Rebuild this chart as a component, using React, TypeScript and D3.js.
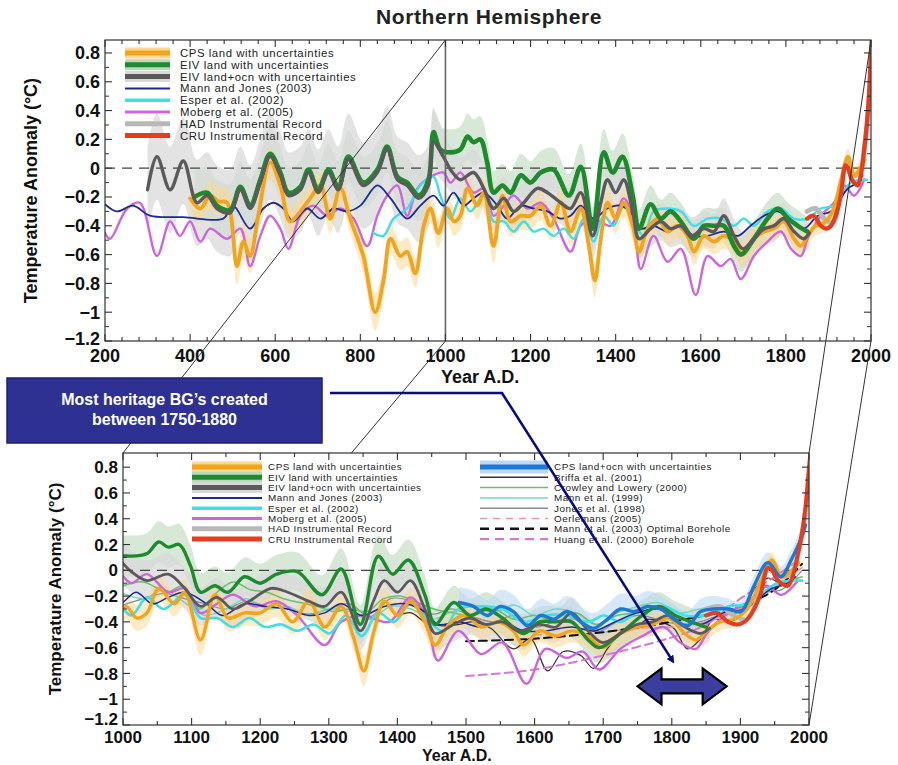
import React from 'react';
import * as d3 from 'd3';

type P = [number, number];
type B = [number, number, number];

// ---------- DATA (year, anomaly[, half-width of uncertainty]) ----------
const cpsLand: B[] = [
  [400,-0.21,0.1],[424,-0.28,0.1],[447,-0.19,0.1],[466,-0.23,0.1],[487,-0.24,0.1],[510,-0.68,0.13],[525,-0.51,0.12],[541,-0.61,0.12],
  [560,-0.33,0.1],[588,0.04,0.1],[612,-0.12,0.1],[635,-0.37,0.1],[659,-0.30,0.1],[682,-0.21,0.1],[706,-0.12,0.1],[729,-0.35,0.1],
  [753,-0.14,0.1],[776,-0.35,0.1],[807,-0.61,0.12],[835,-1.0,0.13],[855,-0.77,0.12],[871,-0.49,0.1],[894,-0.61,0.1],[910,-0.58,0.1],
  [929,-0.73,0.1],[949,-0.40,0.1],[965,-0.28,0.1],[983,-0.45,0.1],[1004,-0.28,0.1],[1020,-0.37,0.1],[1035,-0.33,0.1],[1052,-0.14,0.1],
  [1075,-0.26,0.1],[1090,-0.17,0.1],[1113,-0.54,0.12],[1134,-0.19,0.1],[1153,-0.37,0.1],[1177,-0.33,0.1],[1200,-0.33,0.1],[1224,-0.26,0.1],
  [1247,-0.40,0.1],[1271,-0.24,0.1],[1294,-0.44,0.1],[1318,-0.28,0.1],[1337,-0.54,0.1],[1351,-0.78,0.12],[1365,-0.49,0.1],[1381,-0.24,0.1],
  [1400,-0.35,0.1],[1419,-0.24,0.1],[1440,-0.40,0.1],[1455,-0.58,0.1],[1475,-0.42,0.09],[1499,-0.35,0.09],[1522,-0.44,0.09],[1546,-0.40,0.09],
  [1569,-0.47,0.09],[1584,-0.58,0.09],[1607,-0.47,0.09],[1631,-0.51,0.09],[1654,-0.47,0.09],[1678,-0.51,0.09],[1699,-0.60,0.09],[1725,-0.49,0.09],
  [1749,-0.44,0.08],[1772,-0.42,0.08],[1795,-0.37,0.08],[1819,-0.49,0.08],[1835,-0.54,0.08],[1851,-0.47,0.07],[1870,-0.40,0.07],[1890,-0.38,0.06],
  [1910,-0.30,0.06],[1930,-0.08,0.06],[1946,0.08,0.06],[1960,-0.05,0.06],[1975,0.0,0.06],[1985,0.06,0.06]
];
const eivLand: B[] = [
  [410,-0.20,0.18],[440,-0.17,0.18],[463,-0.26,0.18],[494,-0.29,0.18],[518,-0.13,0.18],[541,-0.26,0.18],[565,-0.08,0.18],[588,0.10,0.18],
  [612,-0.03,0.18],[631,-0.17,0.18],[659,-0.13,0.18],[678,-0.01,0.18],[701,-0.15,0.18],[725,-0.01,0.18],[748,-0.13,0.18],[772,0.08,0.18],
  [807,-0.10,0.18],[840,-0.01,0.18],[863,0.15,0.18],[887,-0.06,0.18],[910,-0.10,0.18],[937,-0.19,0.18],[960,-0.08,0.18],[972,0.25,0.17],
  [988,0.13,0.16],[1012,0.11,0.16],[1035,0.13,0.16],[1052,0.22,0.16],[1066,0.18,0.16],[1082,0.20,0.16],[1098,0.04,0.16],[1113,-0.17,0.15],
  [1134,-0.12,0.15],[1153,-0.17,0.15],[1177,-0.05,0.15],[1200,-0.10,0.15],[1224,-0.03,0.15],[1254,-0.01,0.15],[1290,-0.19,0.15],[1318,0.01,0.16],
  [1346,-0.42,0.15],[1372,0.11,0.16],[1393,-0.03,0.15],[1416,0.08,0.16],[1440,-0.19,0.15],[1455,-0.42,0.13],[1482,-0.25,0.13],[1506,-0.35,0.13],
  [1529,-0.30,0.13],[1553,-0.37,0.13],[1584,-0.49,0.13],[1607,-0.40,0.12],[1631,-0.40,0.12],[1654,-0.40,0.12],[1678,-0.54,0.12],[1694,-0.60,0.12],
  [1725,-0.49,0.12],[1757,-0.35,0.12],[1781,-0.28,0.11],[1805,-0.35,0.11],[1828,-0.40,0.11],[1850,-0.44,0.1]
];
const eivLandOcn: B[] = [
  [300,-0.15,0.3],[322,0.08,0.3],[353,-0.15,0.3],[384,0.05,0.3],[416,-0.24,0.3],[440,-0.19,0.3],[463,-0.28,0.3],[494,-0.31,0.3],
  [518,-0.15,0.3],[541,-0.28,0.3],[565,-0.10,0.3],[588,0.08,0.3],[612,-0.05,0.3],[631,-0.19,0.3],[659,-0.15,0.3],[678,-0.03,0.3],
  [701,-0.17,0.3],[725,-0.03,0.3],[748,-0.15,0.3],[772,0.06,0.32],[807,-0.12,0.3],[840,-0.03,0.3],[863,0.13,0.3],[887,-0.08,0.3],
  [910,-0.12,0.3],[937,-0.21,0.3],[960,-0.12,0.28],[972,0.18,0.22],[995,0.08,0.18],[1012,-0.01,0.16],[1035,-0.08,0.16],[1066,-0.03,0.16],
  [1090,-0.14,0.16],[1113,-0.28,0.15],[1137,-0.21,0.15],[1160,-0.30,0.15],[1184,-0.24,0.15],[1216,-0.14,0.15],[1240,-0.17,0.15],[1271,-0.24,0.15],
  [1294,-0.28,0.15],[1318,-0.17,0.15],[1346,-0.47,0.15],[1365,-0.24,0.15],[1381,-0.08,0.15],[1400,-0.17,0.15],[1419,-0.08,0.15],[1440,-0.30,0.14],
  [1455,-0.49,0.13],[1482,-0.42,0.13],[1506,-0.37,0.13],[1529,-0.42,0.13],[1553,-0.40,0.13],[1577,-0.47,0.13],[1607,-0.42,0.12],[1631,-0.44,0.12],
  [1654,-0.33,0.12],[1678,-0.47,0.12],[1699,-0.56,0.12],[1725,-0.49,0.12],[1749,-0.42,0.12],[1772,-0.40,0.11],[1795,-0.35,0.11],[1819,-0.44,0.11],
  [1842,-0.49,0.1],[1855,-0.45,0.1]
];
const mannJones: P[] = [
  [200,-0.25],[228,-0.30],[266,-0.26],[306,-0.33],[384,-0.34],[478,-0.35],[501,-0.26],[541,-0.42],[572,-0.28],[596,-0.24],[619,-0.28],
  [642,-0.37],[675,-0.28],[706,-0.35],[737,-0.28],[769,-0.30],[800,-0.26],[840,-0.12],[871,-0.21],[910,-0.35],[941,-0.26],[972,-0.19],
  [995,-0.26],[1019,-0.17],[1043,-0.26],[1066,-0.21],[1090,-0.17],[1122,-0.26],[1145,-0.35],[1177,-0.26],[1207,-0.28],[1240,-0.30],
  [1271,-0.35],[1294,-0.33],[1318,-0.26],[1348,-0.35],[1381,-0.28],[1411,-0.26],[1442,-0.33],[1459,-0.42],[1489,-0.40],[1522,-0.44],
  [1553,-0.40],[1584,-0.47],[1616,-0.47],[1654,-0.44],[1687,-0.47],[1717,-0.40],[1749,-0.33],[1781,-0.30],[1812,-0.37],[1842,-0.42],
  [1875,-0.33],[1906,-0.30],[1946,-0.14],[1969,-0.10],[1980,-0.05]
];
const esper: P[] = [
  [831,-0.45],[854,-0.47],[878,-0.35],[910,-0.28],[941,-0.12],[972,-0.06],[988,-0.19],[1012,-0.35],[1035,-0.21],[1059,-0.30],[1090,-0.19],
  [1113,-0.37],[1137,-0.37],[1160,-0.44],[1184,-0.37],[1207,-0.44],[1231,-0.42],[1254,-0.47],[1278,-0.42],[1301,-0.49],[1325,-0.35],
  [1348,-0.51],[1372,-0.33],[1395,-0.40],[1419,-0.26],[1442,-0.37],[1466,-0.47],[1489,-0.30],[1522,-0.28],[1553,-0.30],[1584,-0.40],
  [1616,-0.35],[1647,-0.35],[1678,-0.40],[1701,-0.35],[1725,-0.40],[1757,-0.30],[1788,-0.28],[1819,-0.35],[1851,-0.35],[1882,-0.28],
  [1913,-0.26],[1953,-0.10],[1990,-0.08]
];
const moberg: P[] = [
  [200,-0.45],[212,-0.49],[252,-0.28],[282,-0.24],[322,-0.61],[353,-0.37],[376,-0.47],[400,-0.37],[424,-0.51],[447,-0.42],[487,-0.49],
  [518,-0.42],[541,-0.68],[565,-0.47],[588,-0.33],[612,-0.42],[631,-0.56],[659,-0.33],[690,-0.26],[722,-0.33],[753,-0.28],[784,-0.35],
  [816,-0.54],[840,-0.33],[863,-0.19],[887,-0.12],[910,-0.33],[934,-0.14],[965,-0.06],[995,-0.03],[1012,-0.10],[1035,-0.03],[1066,-0.17],
  [1090,-0.14],[1113,-0.33],[1137,-0.26],[1160,-0.19],[1193,-0.28],[1224,-0.24],[1254,-0.35],[1294,-0.58],[1318,-0.40],[1348,-0.35],
  [1388,-0.40],[1419,-0.21],[1442,-0.37],[1459,-0.70],[1489,-0.47],[1522,-0.65],[1553,-0.56],[1588,-0.88],[1616,-0.61],[1647,-0.68],
  [1670,-0.63],[1694,-0.77],[1725,-0.61],[1757,-0.51],[1788,-0.44],[1812,-0.56],[1835,-0.61],[1851,-0.49],[1882,-0.33],[1913,-0.24],
  [1937,-0.12],[1960,-0.19],[1984,-0.08]
];
const hadInstr: P[] = [
  [1850,-0.30],[1870,-0.28],[1890,-0.35],[1910,-0.38],[1930,-0.12],[1945,0.05],[1960,-0.05],[1975,-0.02],[1985,0.15],[1995,0.45],[2004,0.95]
];
const cruInstr: P[] = [
  [1850,-0.35],[1865,-0.33],[1882,-0.40],[1895,-0.42],[1906,-0.40],[1918,-0.32],[1929,-0.19],[1940,0.02],[1946,0.0],[1955,-0.08],
  [1969,-0.12],[1976,-0.05],[1984,0.13],[1990,0.3],[1995,0.5],[2000,0.8],[2004,1.0]
];
const cpsLandOcn: B[] = [
  [1490,-0.25,0.12],[1511,-0.28,0.12],[1531,-0.35,0.12],[1550,-0.28,0.13],[1569,-0.32,0.13],[1590,-0.43,0.13],[1609,-0.35,0.13],[1628,-0.38,0.12],
  [1648,-0.32,0.12],[1667,-0.40,0.12],[1686,-0.45,0.12],[1706,-0.38,0.12],[1725,-0.30,0.12],[1745,-0.32,0.12],[1765,-0.28,0.12],[1784,-0.30,0.11],
  [1803,-0.38,0.11],[1823,-0.43,0.11],[1842,-0.32,0.1],[1861,-0.30,0.1],[1882,-0.30,0.08],[1901,-0.32,0.08],[1920,-0.12,0.08],[1940,0.06,0.08],
  [1959,-0.05,0.08],[1974,0.08,0.08],[1988,0.24,0.08],[1995,0.35,0.08]
];
const briffa: P[] = [
  [1402,-0.35],[1420,-0.33],[1440,-0.40],[1463,-0.43],[1490,-0.42],[1510,-0.40],[1536,-0.45],[1569,-0.61],[1594,-0.53],[1619,-0.78],
  [1642,-0.63],[1667,-0.66],[1686,-0.76],[1706,-0.61],[1725,-0.48],[1745,-0.45],[1765,-0.38],[1784,-0.40],[1803,-0.45],[1823,-0.61],
  [1842,-0.53],[1861,-0.38],[1882,-0.40],[1901,-0.35],[1920,-0.15],[1940,-0.06],[1960,-0.12]
];
const crowleyLowery: P[] = [
  [1000,-0.12],[1030,-0.09],[1064,-0.17],[1088,-0.12],[1112,-0.30],[1137,-0.17],[1161,-0.09],[1185,-0.15],[1210,-0.17],[1234,-0.22],
  [1258,-0.25],[1283,-0.28],[1307,-0.32],[1331,-0.30],[1356,-0.32],[1380,-0.22],[1404,-0.20],[1429,-0.25],[1453,-0.30],[1480,-0.33],
  [1510,-0.35],[1540,-0.30],[1570,-0.38],[1600,-0.35],[1630,-0.40],[1660,-0.33],[1690,-0.42],[1720,-0.35],[1750,-0.33],[1780,-0.30],
  [1810,-0.38],[1840,-0.35],[1870,-0.33],[1900,-0.30],[1930,-0.15],[1960,-0.10],[1990,-0.05]
];
const mann1999: P[] = [
  [1000,-0.18],[1030,-0.22],[1060,-0.15],[1090,-0.25],[1120,-0.35],[1150,-0.30],[1180,-0.22],[1210,-0.30],[1240,-0.28],[1270,-0.35],
  [1300,-0.30],[1330,-0.32],[1360,-0.38],[1390,-0.28],[1420,-0.30],[1450,-0.38],[1480,-0.32],[1510,-0.28],[1540,-0.33],[1570,-0.27],
  [1600,-0.35],[1630,-0.30],[1660,-0.33],[1690,-0.42],[1720,-0.33],[1750,-0.28],[1780,-0.25],[1810,-0.33],[1840,-0.30],[1870,-0.28],
  [1900,-0.30],[1930,-0.18],[1960,-0.12],[1980,-0.05]
];
const jones1998: P[] = [
  [1000,-0.27],[1030,-0.22],[1060,-0.18],[1090,-0.22],[1120,-0.26],[1150,-0.30],[1180,-0.24],[1210,-0.28],[1240,-0.30],[1270,-0.34],
  [1300,-0.30],[1330,-0.26],[1360,-0.36],[1390,-0.22],[1420,-0.24],[1450,-0.34],[1480,-0.30],[1510,-0.36],[1540,-0.40],[1570,-0.35],
  [1600,-0.44],[1630,-0.40],[1660,-0.38],[1690,-0.48],[1720,-0.40],[1750,-0.35],[1780,-0.38],[1810,-0.42],[1840,-0.40],[1870,-0.35],
  [1900,-0.32],[1930,-0.18],[1960,-0.15],[1990,0.0]
];
const oerlemans: P[] = [[1600,-0.50],[1650,-0.50],[1700,-0.48],[1750,-0.45],[1800,-0.44],[1850,-0.40],[1900,-0.30],[1950,-0.12],[1990,0.02]];
const mann2003Bore: P[] = [[1500,-0.55],[1600,-0.53],[1700,-0.48],[1800,-0.40],[1900,-0.28],[1950,-0.15],[1990,0.05]];
const huang2000Bore: P[] = [[1500,-0.82],[1600,-0.77],[1700,-0.66],[1800,-0.52],[1850,-0.42],[1900,-0.22],[1950,-0.05],[1990,0.10]];

const yTickValues = [-1.2, -1, -0.8, -0.6, -0.4, -0.2, 0, 0.2, 0.4, 0.6, 0.8];
const topXTickValues = [200, 400, 600, 800, 1000, 1200, 1400, 1600, 1800, 2000];
const botXTickValues = [1000, 1100, 1200, 1300, 1400, 1500, 1600, 1700, 1800, 1900, 2000];
const topLegendLabels = [
  'CPS land with uncertainties', 'EIV land with uncertainties', 'EIV land+ocn with uncertainties', 'Mann and Jones (2003)',
  'Esper et al. (2002)', 'Moberg et al. (2005)', 'HAD Instrumental Record', 'CRU Instrumental Record'
];
const botLegendRight = [
  'CPS land+ocn with uncertainties', 'Briffa et al. (2001)', 'Crowley and Lowery (2000)', 'Mann et al. (1999)',
  'Jones et al. (1998)', 'Oerlemans (2005)', 'Mann et al. (2003) Optimal Borehole', 'Huang et al. (2000) Borehole'
];
const heritageRange = [1750, 1880];

// ---------- STYLES ----------
const FONT = "'Liberation Sans', Arial, Helvetica, sans-serif";
const C = {
  cps: '#f2a41e', cpsBand: '#fcd790',
  eiv: '#1e8a2e', eivBand: '#bcd8bc',
  ocn: '#5a5a5a', ocnBand: '#d9d9d9',
  mj: '#1c2b8f', esper: '#3fdfe6', moberg: '#cc66dd', had: '#b8b8b8', cru: '#e53d1d',
  blue: '#1f77d0', blueBand: '#bcd9f3', briffa: '#3a3030', crowley: '#66c266', mann99: '#74d6c6', jones: '#8c8c8c',
  oerl: '#e79a9a', m03: '#111111', huang: '#d478d6', navy: '#0b0b80', box: '#2e3192'
};

const fmtTick = (v: number) => (v < 0 ? '\u2212' : '') + String(Math.round(Math.abs(v) * 10) / 10);

type LineSpec = { data: P[] | B[]; color: string; width: number; dash?: string };
type BandSpec = { data: B[]; color: string; opacity: number };

function Panel(props: {
  x: d3.ScaleLinear<number, number>; y: d3.ScaleLinear<number, number>; id: string;
  xTicks: number[]; xMinorStep: number; bands: BandSpec[]; lines: LineSpec[];
  labelGap: number; fontSize: number; yLabelX: number; yLabelSize: number; xTitleX: number; xTitleY: number; xTitleSize: number;
  lowShift: number; children?: React.ReactNode;
}) {
  const { x, y, id, xTicks, xMinorStep, bands, lines } = props;
  const [x0, x1] = x.range();
  const [y0, y1] = y.range();
  const line = d3.line<any>().x((d) => x(d[0])).y((d) => y(d[1])).curve(d3.curveCatmullRom.alpha(0.5));
  const area = d3.area<B>().x((d) => x(d[0])).y0((d) => y(d[1] - d[2])).y1((d) => y(d[1] + d[2])).curve(d3.curveCatmullRom.alpha(0.5));
  const xd = x.domain();
  const xMinor = d3.range(xd[0], xd[1] + 0.1, xMinorStep);
  const yMinor = d3.range(-1.1, 0.85, 0.2);
  const tickCol = '#333';
  const lowest = d3.min(yTickValues);
  return (
    <g>
      <defs>
        <clipPath id={id}><rect x={x0} y={y1} width={x1 - x0} height={y0 - y1} /></clipPath>
      </defs>
      <rect x={x0} y={y1} width={x1 - x0} height={y0 - y1} fill="#fff" />
      <g clipPath={`url(#${id})`}>
        {bands.map((b, i) => (
          <path key={'b' + i} d={area(b.data) || ''} fill={b.color} opacity={b.opacity} />
        ))}
        <line x1={x0} x2={x1} y1={y(0)} y2={y(0)} stroke="#444" strokeWidth={1.3} strokeDasharray="10,7" />
        {lines.map((l, i) => (
          <path key={'l' + i} d={line(l.data as any) || ''} fill="none" stroke={l.color} strokeWidth={l.width}
            strokeDasharray={l.dash} strokeLinejoin="round" strokeLinecap="round" />
        ))}
      </g>
      {props.children}
      <rect x={x0} y={y1} width={x1 - x0} height={y0 - y1} fill="none" stroke={tickCol} strokeWidth={1.2} />
      {xMinor.map((t) => {
        const major = xTicks.includes(t);
        const len = major ? 7 : 4;
        return (
          <g key={'xt' + t}>
            <line x1={x(t)} x2={x(t)} y1={y0} y2={y0 - len} stroke={tickCol} strokeWidth={1.1} />
            <line x1={x(t)} x2={x(t)} y1={y1} y2={y1 + len} stroke={tickCol} strokeWidth={1.1} />
          </g>
        );
      })}
      {yTickValues.map((t) => (
        <g key={'yt' + t}>
          <line x1={x0} x2={x0 + 7} y1={y(t)} y2={y(t)} stroke={tickCol} strokeWidth={1.1} />
          <line x1={x1} x2={x1 - 7} y1={y(t)} y2={y(t)} stroke={tickCol} strokeWidth={1.1} />
        </g>
      ))}
      {yMinor.map((t) => (
        <g key={'ym' + t}>
          <line x1={x0} x2={x0 + 4} y1={y(t)} y2={y(t)} stroke={tickCol} strokeWidth={1} />
          <line x1={x1} x2={x1 - 4} y1={y(t)} y2={y(t)} stroke={tickCol} strokeWidth={1} />
        </g>
      ))}
      {yTickValues.map((t) => (
        <text key={'yl' + t} x={x0 - 5} y={y(t) - (t === lowest ? props.lowShift : 0)} dy="0.36em" textAnchor="end" fontFamily={FONT}
          fontWeight="bold" fontSize={props.fontSize} fill="#111">{fmtTick(t)}</text>
      ))}
      {xTicks.map((t) => (
        <text key={'xl' + t} x={x(t)} y={y0 + props.labelGap} textAnchor="middle" fontFamily={FONT}
          fontWeight="bold" fontSize={props.fontSize} fill="#111">{t}</text>
      ))}
      <text transform={`translate(${props.yLabelX},${(y0 + y1) / 2}) rotate(-90)`} textAnchor="middle" dy="0.36em"
        fontFamily={FONT} fontWeight="bold" fontSize={props.yLabelSize} fill="#111">Temperature Anomaly (°C)</text>
      <text x={props.xTitleX} y={props.xTitleY} fontFamily={FONT} fontWeight="bold" fontSize={props.xTitleSize} fill="#111">Year A.D.</text>
    </g>
  );
}

type Swatch = { color: string; width: number; band?: string; bandWidth?: number; dash?: string };

function Legend(props: { x0: number; x1: number; tx: number; y0: number; step: number; fontSize: number; spacing: number; labels: string[]; sw: Swatch[] }) {
  return (
    <g>
      {props.labels.map((lab, i) => {
        const yy = props.y0 + i * props.step;
        const s = props.sw[i];
        return (
          <g key={lab}>
            {s.band && <line x1={props.x0} x2={props.x1} y1={yy} y2={yy} stroke={s.band} strokeWidth={s.bandWidth} />}
            <line x1={props.x0} x2={props.x1} y1={yy} y2={yy} stroke={s.color} strokeWidth={s.width} strokeDasharray={s.dash} />
            <text x={props.tx} y={yy} dy="0.35em" fontFamily={FONT} fontSize={props.fontSize} letterSpacing={props.spacing} fill="#222">{lab}</text>
          </g>
        );
      })}
    </g>
  );
}

export default function App() {
  const W = 898, H = 765;
  const xT = d3.scaleLinear().domain([200, 2000]).range([105, 871]);
  const yT = d3.scaleLinear().domain([-1.2, 0.89]).range([341, 40]);
  const xB = d3.scaleLinear().domain([1000, 2000]).range([123, 809]);
  const yB = d3.scaleLinear().domain([-1.2, 0.91]).range([725, 453]);

  const topBands: BandSpec[] = [
    { data: eivLand, color: C.eivBand, opacity: 0.6 },
    { data: eivLandOcn, color: C.ocnBand, opacity: 0.75 },
    { data: cpsLand, color: C.cpsBand, opacity: 0.55 },
  ];
  const topLines: LineSpec[] = [
    { data: moberg, color: C.moberg, width: 2.4 },
    { data: esper, color: C.esper, width: 2.4 },
    { data: mannJones, color: C.mj, width: 1.8 },
    { data: hadInstr, color: C.had, width: 5 },
    { data: cpsLand, color: C.cps, width: 3.8 },
    { data: eivLand, color: C.eiv, width: 4.6 },
    { data: eivLandOcn, color: C.ocn, width: 3.4 },
    { data: cruInstr, color: C.cru, width: 4.2 },
  ];
  const botBands: BandSpec[] = [
    { data: eivLand, color: C.eivBand, opacity: 0.6 },
    { data: eivLandOcn, color: C.ocnBand, opacity: 0.75 },
    { data: cpsLandOcn, color: C.blueBand, opacity: 0.6 },
    { data: cpsLand, color: C.cpsBand, opacity: 0.5 },
  ];
  const botLines: LineSpec[] = [
    { data: jones1998, color: C.jones, width: 1.2 },
    { data: mann1999, color: C.mann99, width: 1.5 },
    { data: crowleyLowery, color: C.crowley, width: 1.5 },
    { data: briffa, color: C.briffa, width: 1.2 },
    { data: oerlemans, color: C.oerl, width: 1.6, dash: '7,5' },
    { data: mann2003Bore, color: C.m03, width: 2, dash: '8,5' },
    { data: huang2000Bore, color: C.huang, width: 2, dash: '8,5' },
    { data: moberg, color: C.moberg, width: 2.4 },
    { data: esper, color: C.esper, width: 2.6 },
    { data: mannJones, color: C.mj, width: 1.5 },
    { data: hadInstr, color: C.had, width: 4.5 },
    { data: cpsLand, color: C.cps, width: 3.4 },
    { data: eivLand, color: C.eiv, width: 3.4 },
    { data: eivLandOcn, color: C.ocn, width: 2.8 },
    { data: cpsLandOcn, color: C.blue, width: 3.4 },
    { data: cruInstr, color: C.cru, width: 4 },
  ];

  const leftSw: Swatch[] = [
    { color: C.cps, width: 5, band: C.cpsBand, bandWidth: 11 },
    { color: C.eiv, width: 5, band: C.eivBand, bandWidth: 11 },
    { color: C.ocn, width: 5, band: C.ocnBand, bandWidth: 11 },
    { color: C.mj, width: 2 },
    { color: C.esper, width: 3.5 },
    { color: C.moberg, width: 3 },
    { color: C.had, width: 5 },
    { color: C.cru, width: 5 },
  ];
  const rightSw: Swatch[] = [
    { color: C.blue, width: 5, band: C.blueBand, bandWidth: 13 },
    { color: C.briffa, width: 1.5 },
    { color: C.crowley, width: 1.5 },
    { color: C.mann99, width: 1.5 },
    { color: C.jones, width: 1.5 },
    { color: C.oerl, width: 1.6, dash: '7,6' },
    { color: C.m03, width: 2.4, dash: '9,6' },
    { color: C.huang, width: 2.4, dash: '9,6' },
  ];

  // connector lines between panels
  const conns = [
    [xT(1000), yT.range()[1], xB(1000), yB.range()[1]],
    [xT(1000), yT.range()[0], xB(1000), yB.range()[0]],
    [xT(2000), yT.range()[1], xB(2000), yB.range()[1]],
    [xT(2000), yT.range()[0], xB(2000), yB.range()[0]],
  ];

  const ax0 = xB(heritageRange[0]), ax1 = xB(heritageRange[1]), ay = yB(-0.9);
  const hw = 18, sh = 7, hl = 24;
  const dbl = [
    [ax0, ay], [ax0 + hl, ay - hw], [ax0 + hl, ay - sh], [ax1 - hl, ay - sh], [ax1 - hl, ay - hw], [ax1, ay],
    [ax1 - hl, ay + hw], [ax1 - hl, ay + sh], [ax0 + hl, ay + sh], [ax0 + hl, ay + hw],
  ].map((p) => p.join(',')).join(' ');

  return (
    <svg width={W} height={H} viewBox={`0 0 ${W} ${H}`} style={{ position: 'absolute', left: 0, top: 0, background: '#fff' }}>
      <rect x={0} y={0} width={W} height={H} fill="#fff" />
      <defs>
        <marker id="ahead" markerWidth="8" markerHeight="8" refX="6" refY="4" orient="auto" markerUnits="userSpaceOnUse">
          <path d="M0,0 L8,4 L0,8 z" fill={C.navy} />
        </marker>
      </defs>
      <text x={489} y={24} textAnchor="middle" fontFamily={FONT} fontWeight="bold" fontSize={21} letterSpacing={0.6} fill="#222">Northern Hemisphere</text>

      <Panel x={xT} y={yT} id="clipTop" xTicks={topXTickValues} xMinorStep={40} bands={topBands} lines={topLines}
        labelGap={21} fontSize={18} yLabelX={31} yLabelSize={18} xTitleX={441} xTitleY={383} xTitleSize={18} lowShift={2}>
        <line x1={xT(1000)} x2={xT(1000)} y1={yT.range()[1]} y2={yT.range()[0]} stroke="#666" strokeWidth={1.6} />
        <Legend x0={125} x1={170} tx={180} y0={53} step={11.8} fontSize={11.4} spacing={0.55} labels={topLegendLabels} sw={leftSw} />
      </Panel>

      {conns.map((c, i) => (
        <line key={'c' + i} x1={c[0]} y1={c[1]} x2={c[2]} y2={c[3]} stroke="#333" strokeWidth={1} />
      ))}

      <Panel x={xB} y={yB} id="clipBot" xTicks={botXTickValues} xMinorStep={50} bands={botBands} lines={botLines}
        labelGap={18} fontSize={17} yLabelX={55} yLabelSize={17} xTitleX={422} xTitleY={761} xTitleSize={16} lowShift={6}>
        <Legend x0={192} x1={262} tx={268} y0={467} step={10.3} fontSize={9.9} spacing={0.5} labels={topLegendLabels} sw={leftSw} />
        <Legend x0={480} x1={548} tx={554} y0={467} step={10.3} fontSize={9.9} spacing={0.5} labels={botLegendRight} sw={rightSw} />
      </Panel>

      <rect x={7} y={378} width={315} height={65} fill={C.box} stroke="#1d1f70" strokeWidth={1.5} />
      <text x={164.5} y={405} textAnchor="middle" fontFamily={FONT} fontWeight="bold" fontSize={16} fill="#fff">Most heritage BG’s created</text>
      <text x={164.5} y={425} textAnchor="middle" fontFamily={FONT} fontWeight="bold" fontSize={16} fill="#fff">between 1750-1880</text>

      <polyline points={`330,393 502,393 ${xB(1802)},${yB(-0.71)}`} fill="none" stroke={C.navy} strokeWidth={2.6} markerEnd="url(#ahead)" />
      <polygon points={dbl} fill="#3b3e9e" stroke="#000" strokeWidth={2.2} strokeLinejoin="miter" />
    </svg>
  );
}
